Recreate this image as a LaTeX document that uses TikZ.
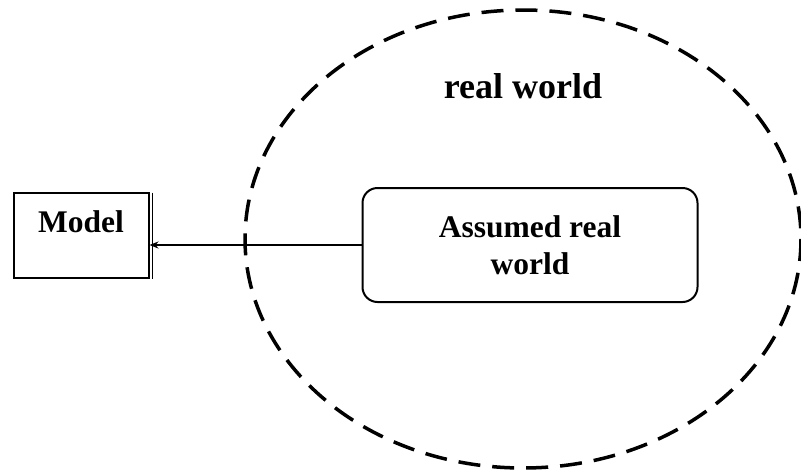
\documentclass[tikz,border=0pt]{standalone}
\usepackage{fontspec}
\setmainfont{Liberation Serif}
\usetikzlibrary{arrows.meta,positioning,calc}

\begin{document}
\begin{tikzpicture}[x=1pt, y=-1pt, >={Stealth[length=9pt, width=7pt]},
    boxtext/.style={font=\bfseries\fontsize{31.5}{37}\selectfont, align=center}]
        \useasboundingbox (0,0) rectangle (801,472);
        \draw[line width=3.5pt, dash pattern=on 22pt off 12pt] (523,239) ellipse [x radius=278, y radius=229];
        \node[font=\bfseries\fontsize{36}{42}\selectfont] (realworld) at (523,86) {real world};
        \node[boxtext, draw, line width=2pt, rounded corners=15pt, minimum width=335pt, minimum height=114pt] (assumed) at (530,245) {Assumed real\\world};
        \node[boxtext, draw, line width=2pt, inner sep=0pt, text width=135pt, text height=40pt, text depth=45pt] (model) at (81,235) {Model};
        \draw[line width=1pt] (model.north east) ++(2.5,1) -- ($(model.south east)+(2.5,0)$);
        \draw[->, line width=1.5pt] (assumed.west) -- (assumed.west -| model.east);
      \end{tikzpicture}
\end{document}
